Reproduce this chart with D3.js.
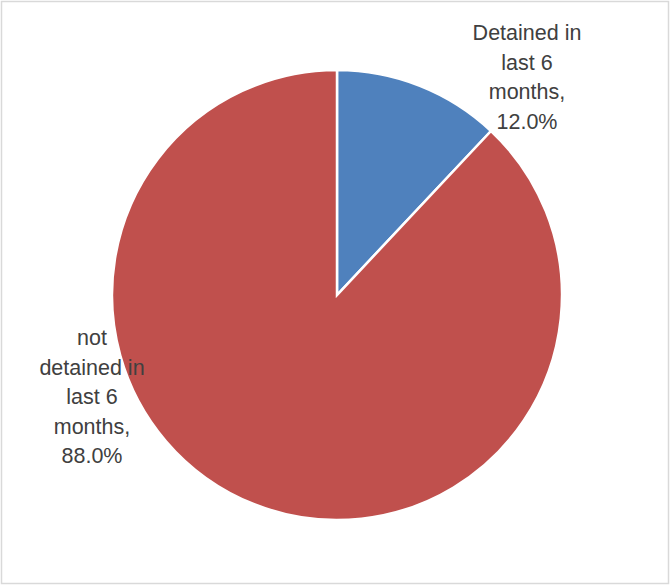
<!DOCTYPE html>
<html><head><meta charset="utf-8">
<script src="https://cdn.jsdelivr.net/npm/d3@7"></script>
<style>html,body{margin:0;padding:0;background:#fff;}svg{display:block;}</style>
</head><body>
<svg id="chart" width="671" height="586"></svg>
<script>
const categories = ["Detained in last 6 months", "not detained in last 6 months"];
const values = [12.0, 88.0];
const colors = ["#4F81BD", "#C0504D"];
const labelLines = [
  ["Detained in", "last 6", "months,", "12.0%"],
  ["not", "detained in", "last 6", "months,", "88.0%"]
];

const svg = d3.select("#chart");
svg.append("rect").attr("x", 1.5).attr("y", 1.5).attr("width", 667).attr("height", 582)
  .attr("fill", "#fff").attr("stroke", "#d9d9d9").attr("stroke-width", 1.5);

const cx = 337, cy = 295, r = 225;
const pie = d3.pie().sort(null).value(d => d)(values);
const arc = d3.arc().innerRadius(0).outerRadius(r);
const g = svg.append("g").attr("transform", `translate(${cx},${cy})`);
g.selectAll("path").data(pie).join("path")
  .attr("d", arc).attr("fill", (d, i) => colors[i])
  .attr("stroke", "#fff").attr("stroke-width", 2.5).attr("stroke-linejoin", "miter");

const labelPos = [[527, 40], [92, 345]];
const lh = 29.6;
labelLines.forEach((lines, i) => {
  const t = svg.append("text").attr("text-anchor", "middle")
    .attr("font-family", "'Liberation Sans', Arial, sans-serif")
    .attr("font-size", 21.5).attr("fill", "#404040");
  lines.forEach((s, j) => {
    t.append("tspan").attr("x", labelPos[i][0]).attr("y", labelPos[i][1] + j * lh).text(s);
  });
});
</script>
</body></html>
